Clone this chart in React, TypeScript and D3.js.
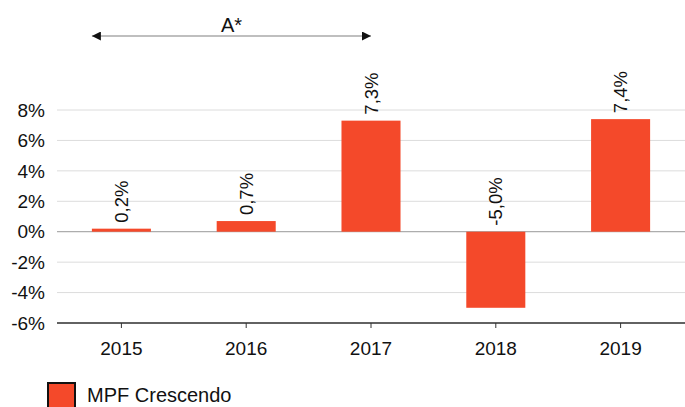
import * as d3 from "d3";

const years = ["2015", "2016", "2017", "2018", "2019"];
const values = [0.2, 0.7, 7.3, -5.0, 7.4];
const valueLabels = ["0,2%", "0,7%", "7,3%", "-5,0%", "7,4%"];
const yTicks = [-6, -4, -2, 0, 2, 4, 6, 8];
const seriesName = "MPF Crescendo";
const annotation = "A*";
const annotationSpan = ["2015", "2017"];

const W = 685;
const H = 407;
const FONT = "Arial, 'Liberation Sans', Helvetica, sans-serif";
const RED = "#f4492a";

export default function App() {
  const x = d3.scaleBand().domain(years).range([59, 683]).paddingInner(0.527).paddingOuter(0.2635);
  const y = d3.scaleLinear().domain([-6, 8]).range([323, 110]);
  const cx = (d: string) => (x(d) as number) + x.bandwidth() / 2;

  // arrow: left edge of first bar to centre of last bar in span
  const ax1 = x(annotationSpan[0]) as number;
  const ax2 = cx(annotationSpan[1]);

  return (
    <svg width={W} height={H} style={{ position: "absolute", left: 0, top: 0 }} fontFamily={FONT}>
      <defs>
        <marker id="arr" viewBox="0 0 10 10" refX="10" refY="5" markerWidth="12" markerHeight="9" markerUnits="userSpaceOnUse" orient="auto-start-reverse">
          <path d="M0,0 L10,5 L0,10 z" fill="#111" />
        </marker>
      </defs>

      {/* gridlines */}
      {yTicks.map((t) => (
        <line key={t} x1={57} x2={685} y1={y(t)} y2={y(t)} stroke={t === 0 ? "#999" : "#dcdcdc"} strokeWidth={1} />
      ))}
      {yTicks.map((t) => (
        <text key={"l" + t} x={45} y={y(t)} dy="0.35em" textAnchor="end" fontSize={19} fill="#111">
          {t + "%"}
        </text>
      ))}

      {/* bars */}
      {years.map((yr, i) => (
        <rect key={yr} x={x(yr)} width={x.bandwidth()} y={y(Math.max(0, values[i]))} height={Math.abs(y(values[i]) - y(0))} fill={RED} />
      ))}
      {years.map((yr, i) => (
        <text key={"v" + yr} transform={`translate(${cx(yr) + 6.5},${y(Math.max(0, values[i])) - 6}) rotate(-90)`} fontSize={18.5} fill="#111">
          {valueLabels[i]}
        </text>
      ))}

      {/* x axis */}
      <line x1={57} x2={685} y1={y(-6)} y2={y(-6)} stroke="#333" strokeWidth={1.5} />
      {years.map((yr) => (
        <g key={"t" + yr}>
          <line x1={cx(yr)} x2={cx(yr)} y1={y(-6)} y2={y(-6) + 5} stroke="#333" />
          <text x={cx(yr)} y={355} textAnchor="middle" fontSize={19} fill="#111">{yr}</text>
        </g>
      ))}

      {/* annotation */}
      <line x1={ax1} x2={ax2} y1={36} y2={36} stroke="#aaa" strokeWidth={1.5} markerStart="url(#arr)" markerEnd="url(#arr)" />
      <text x={(ax1 + ax2) / 2} y={32} textAnchor="middle" fontSize={20} fill="#111">{annotation}</text>

      {/* legend */}
      <rect x={48} y={383} width={27} height={27} fill={RED} stroke="#111" strokeWidth={2} />
      <text x={87} y={402} fontSize={20} fill="#111">{seriesName}</text>
    </svg>
  );
}
